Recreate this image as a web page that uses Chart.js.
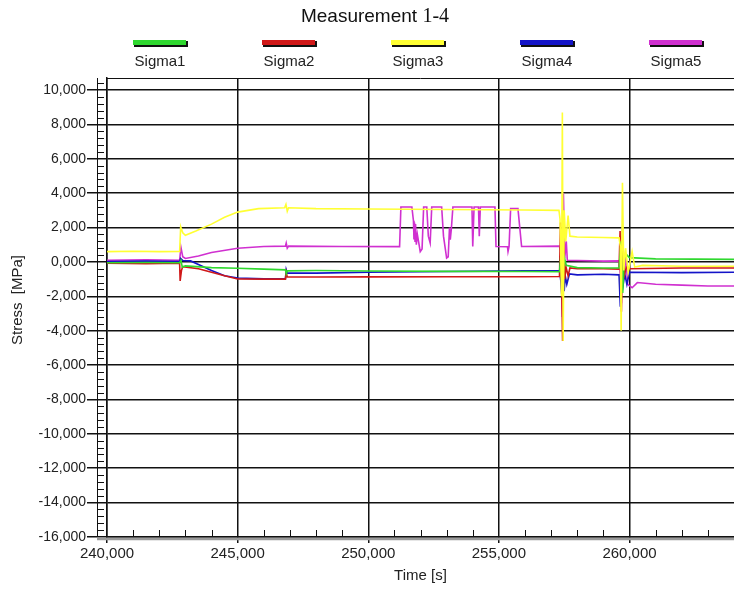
<!DOCTYPE html>
<html>
<head>
<meta charset="utf-8">
<script src="https://cdn.jsdelivr.net/npm/chart.js@4.4.1/dist/chart.umd.min.js"></script>
<style>
body{margin:0;background:#fff;}
canvas{display:block;}
</style>
</head>
<body>
<canvas id="stressChart" width="734" height="590"></canvas>
<script>
// series: time [s] / stress [MPa]
const seriesNames = ["Sigma1", "Sigma2", "Sigma3", "Sigma4", "Sigma5"];
const seriesColors = ["#2fd82f", "#d01818", "#ffff33", "#1414c8", "#d030d0"];

const xTickValues = [240000, 245000, 250000, 255000, 260000];
const yTickValues = [10000, 8000, 6000, 4000, 2000, 0, -2000, -4000, -6000, -8000, -10000, -12000, -14000, -16000];

const sigma1Time = [240000,241500,242780,242830,242880,243000,244000,245000,246000,246830,246860,246900,248000,250000,253000,256000,257320,257380,257440,257500,257580,258000,259000,259600,259680,259740,259800,259900,260000,261000,264000];
const sigma1Stress = [-50,-30,-50,100,-300,-230,-330,-370,-420,-460,-700,-520,-500,-530,-550,-560,-570,500,-1500,300,-200,-330,-350,-350,1200,-1800,200,400,250,180,150];

const sigma2Time = [240000,241500,242780,242800,242850,242900,243500,244000,244500,245000,246000,246830,246860,246900,248000,250000,253000,256000,257320,257360,257400,257440,257480,257520,257570,257650,257720,258000,259000,259600,259640,259690,259740,259800,259880,260000,262000,264000];
const sigma2Stress = [-80,-100,-80,-1100,-500,-270,-400,-600,-800,-990,-1000,-1000,-600,-870,-880,-870,-860,-860,-850,2300,-1000,-4600,1200,-1000,-300,-800,-350,-400,-400,-420,1800,-2900,1500,-800,-300,-400,-350,-350];

const sigma3Time = [240000,241000,242000,242780,242820,242900,243000,243400,244000,244500,245000,245800,246800,246850,246900,246950,248000,250000,253000,256000,257300,257340,257400,257430,257460,257500,257560,257650,257720,258000,259000,259600,259650,259680,259730,259780,259850,259950,260100,260200,260500,262000,264000];
const sigma3Stress = [600,620,600,610,2050,1700,1550,1800,2200,2600,2900,3100,3150,3350,2950,3150,3100,3080,3050,3020,3000,2500,-2000,8700,-4600,3000,1200,2700,1500,1450,1420,1400,900,-4000,4600,-500,800,-600,600,-300,-200,-250,-250];

const sigma4Time = [240000,241500,242780,242820,242900,243200,243500,244000,244500,245000,246000,246830,246860,246900,248000,250000,253000,256000,257320,257380,257420,257460,257500,257540,257600,257700,258000,259000,259600,259650,259700,259760,259820,259900,260000,262000,264000];
const sigma4Stress = [30,50,30,200,80,60,-150,-500,-800,-930,-980,-980,-450,-650,-650,-600,-560,-520,-520,-1200,-2200,300,-1700,-800,-1300,-700,-750,-720,-750,-2600,200,-1300,-700,-1300,-600,-620,-600];

const sigma5Time = [240000,241500,242780,242830,242900,243000,243500,244000,245000,246000,246830,246860,246900,246950,249000,251200,251250,251670,251730,251750,251770,251790,251810,251840,251880,251990,252060,252120,252240,252300,252370,252430,252810,252880,253000,253060,253110,253140,253180,253240,253970,254000,254050,254220,254250,254290,254850,254890,255330,255350,255390,255450,255730,255870,257320,257360,257400,257430,257470,257520,257580,257620,258000,259000,259600,259650,259690,259730,259780,259850,259930,260100,260300,261000,262000,263000,264000];
const sigma5Stress = [100,120,100,850,300,200,350,550,800,900,920,1100,800,920,900,890,3200,3200,2400,1300,2300,1200,2200,1000,1600,600,750,3200,3200,1500,1100,3200,3200,1500,230,300,2000,1300,1900,3200,3200,900,3200,3200,1500,3200,3200,900,880,600,900,3100,3100,900,920,600,-1500,-3200,4000,200,1200,100,80,50,60,-800,-2400,2000,-1000,500,-1300,-1500,-1200,-1300,-1350,-1400,-1400];

const seriesTimes = [sigma1Time, sigma2Time, sigma3Time, sigma4Time, sigma5Time];
const seriesStress = [sigma1Stress, sigma2Stress, sigma3Stress, sigma4Stress, sigma5Stress];

function fmt(v){
  const a = Math.abs(Math.round(v));
  const head = Math.floor(a / 1000);
  const tail = String(a % 1000).padStart(3, "0");
  return (v < 0 ? "-" : "") + head + "," + tail;
}

const decor = {
  id: "decor",
  afterDraw(chart){
    const ctx = chart.ctx;
    const ca = chart.chartArea;
    const xs = chart.scales.x, ys = chart.scales.y;
    ctx.save();

    // y ruler: outer line and minor ticks
    ctx.strokeStyle = "#111";
    ctx.lineWidth = 1;
    ctx.beginPath();
    ctx.moveTo(ca.left - 10 + 0.5, ca.top);
    ctx.lineTo(ca.left - 10 + 0.5, ca.bottom);
    for (let v = -16000; v <= 10400; v += 400){
      if (v % 2000 === 0) continue;
      const y = Math.round(ys.getPixelForValue(v)) + 0.5;
      ctx.moveTo(ca.left - 10, y);
      ctx.lineTo(ca.left - 3, y);
    }
    // x minor ticks
    for (let v = 241000; v < 264000; v += 1000){
      if (v % 5000 === 0) continue;
      const x = Math.round(xs.getPixelForValue(v)) + 0.5;
      ctx.moveTo(x, ca.bottom);
      ctx.lineTo(x, ca.bottom - 7);
    }
    // top border
    ctx.moveTo(ca.left, ca.top + 0.5);
    ctx.lineTo(ca.right, ca.top + 0.5);
    ctx.stroke();

    // grey shadow under x axis
    ctx.strokeStyle = "#9a9a9a";
    ctx.lineWidth = 2.5;
    ctx.beginPath();
    ctx.moveTo(ca.left - 10, ca.bottom + 2);
    ctx.lineTo(ca.right, ca.bottom + 2);
    ctx.stroke();

    // title: sans part + serif part
    const t1 = "Measurement ", t2 = "1-4";
    ctx.fillStyle = "#111";
    ctx.textBaseline = "middle";
    ctx.font = "19px 'Liberation Sans'";
    const w1 = ctx.measureText(t1).width;
    ctx.font = "20px 'Liberation Serif'";
    const w2 = ctx.measureText(t2).width;
    const tx = 375 - (w1 + w2) / 2;
    ctx.font = "19px 'Liberation Sans'";
    ctx.textAlign = "left";
    ctx.fillText(t1, tx, 17);
    ctx.font = "20px 'Liberation Serif'";
    ctx.fillText(t2, tx + w1, 17);

    // legend: colour bar above name
    ctx.textAlign = "center";
    ctx.font = "15px 'Liberation Sans'";
    chart.data.datasets.forEach((ds, i) => {
      const cx = ca.left + 53 + i * 129;
      ctx.fillStyle = "#111";
      ctx.fillRect(cx - 26, 41, 54, 6);
      ctx.fillStyle = ds.borderColor;
      ctx.fillRect(cx - 27, 40, 53, 5);
      ctx.fillStyle = "#222";
      ctx.fillText(ds.label, cx, 62);
    });

    // axis titles
    ctx.font = "15px 'Liberation Sans'";
    ctx.fillText("Time [s]", (ca.left + ca.right) / 2, 576);
    ctx.translate(18, 300);
    ctx.rotate(-Math.PI / 2);
    ctx.fillText("Stress  [MPa]", 0, 0);
    ctx.restore();
  }
};

const stressChart = new Chart(
document.getElementById("stressChart"),
{
type: "line",
data: {
  datasets: seriesNames.map((name, i) => ({
    label: name,
    data: seriesTimes[i].map((t, k) => ({x: t, y: seriesStress[i][k]})),
    borderColor: seriesColors[i],
    backgroundColor: seriesColors[i],
    borderWidth: 1.6,
    pointRadius: 0,
    tension: 0,
    order: i === 2 ? -1 : i
  }))
},
options: {
  responsive: false,
  animation: false,
  layout: {padding: {top: 78, left: 0, right: 0, bottom: 0}},
  plugins: {legend: {display: false}, title: {display: false}, tooltip: {enabled: false}},
  scales: {
    x: {
      type: "linear",
      min: 240000,
      max: 264000,
      afterFit(s){ s.height = 53; },
      afterBuildTicks(s){ s.ticks = xTickValues.map(v => ({value: v})); },
      border: {display: true, color: "#111", width: 1.5},
      grid: {color: "#111", lineWidth: 1.5, tickLength: 6},
      ticks: {padding: 2, color: "#222", autoSkip: false,
        font: {family: "'Liberation Sans'", size: 15}, maxRotation: 0, callback: v => fmt(v)}
    },
    y: {
      min: -16000,
      max: 10700,
      afterFit(s){ s.width = 107; },
      afterBuildTicks(s){ s.ticks = yTickValues.map(v => ({value: v})); },
      border: {display: true, color: "#111", width: 1.5},
      grid: {color: "#111", lineWidth: 1.5, tickLength: 20},
      ticks: {padding: 1, color: "#222", autoSkip: false,
        font: {family: "'Liberation Sans'", size: 14}, callback: v => fmt(v)}
    }
  }
},
plugins: [decor]
});
</script>
</body>
</html>
